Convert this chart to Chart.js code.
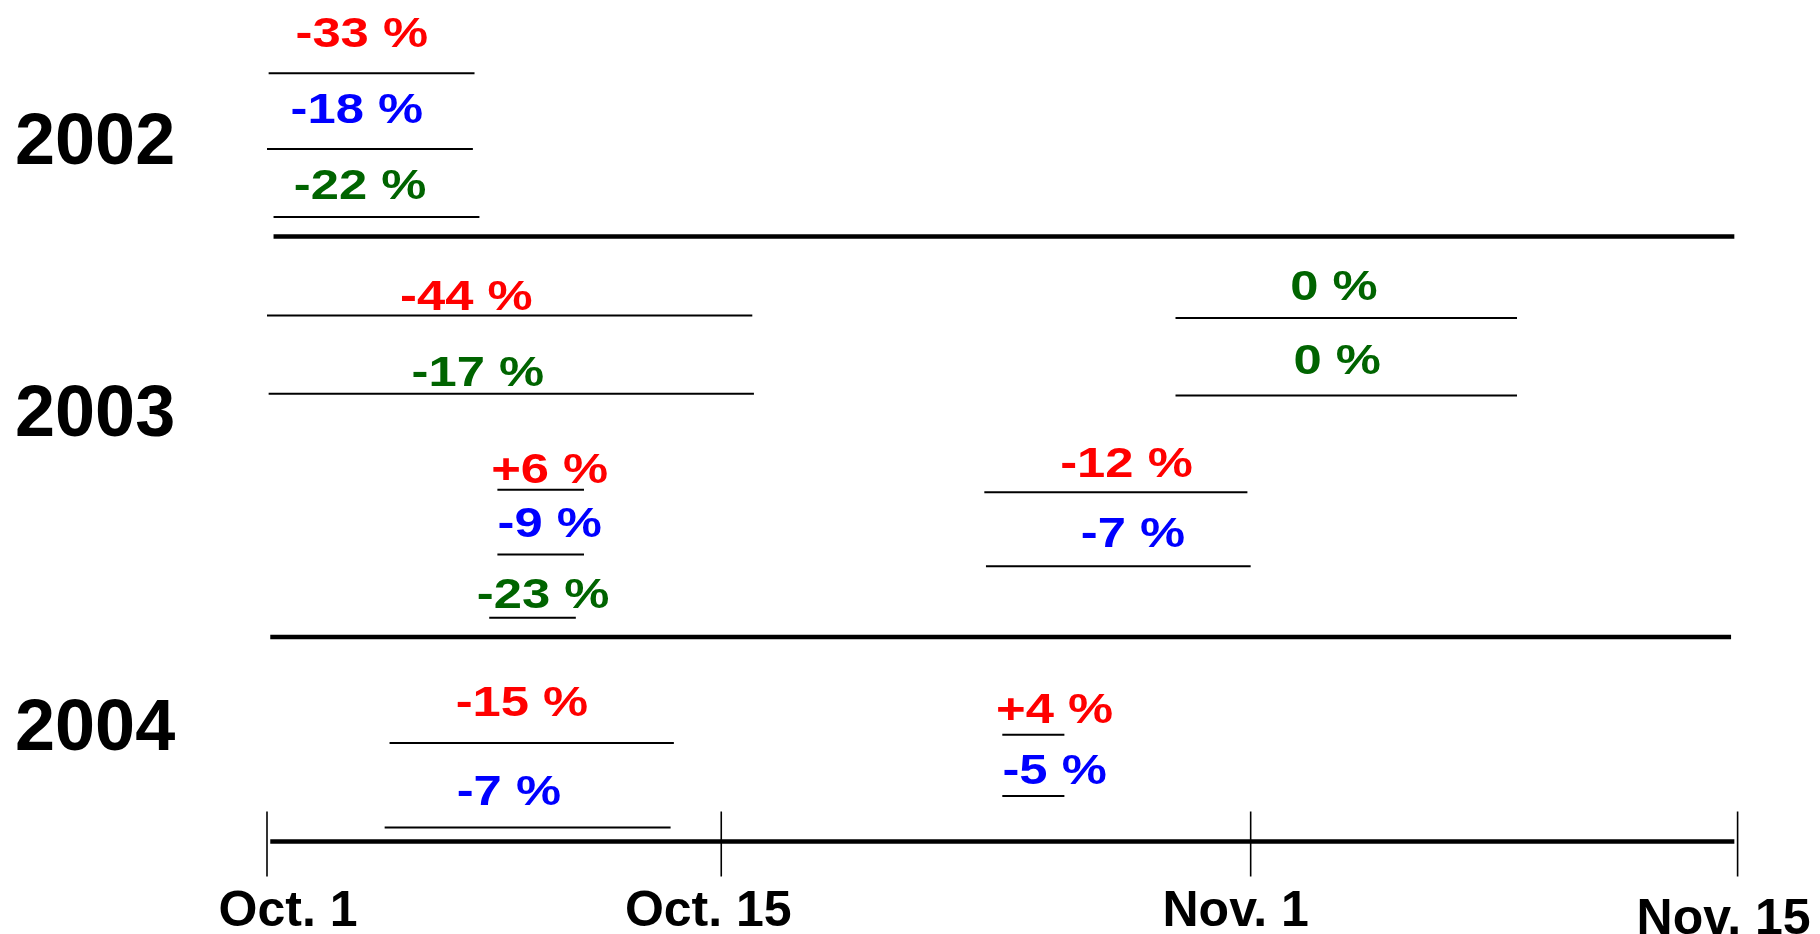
<!DOCTYPE html>
<html>
<head>
<meta charset="utf-8">
<title>Changes by period, 2002-2004</title>
<script src="https://cdn.jsdelivr.net/npm/chart.js@4.4.1/dist/chart.umd.min.js"></script>
<style>
  html, body { margin: 0; padding: 0; background: #fff; }
  #wrap { width: 1820px; height: 934px; }
</style>
</head>
<body>
<div id="wrap"><canvas id="chart"></canvas></div>
<script>
// Year rows (hidden y axis: 0 at the date axis, 100 at the top)
const years = ['2002', '2003', '2004'];
const yearLevels = [82.9, 50.6, 13.2];

// Date axis, in days after Oct. 1
const tickDays = [0, 13.9, 30.1, 45];
const tickLabels = ['Oct. 1', 'Oct. 15', 'Nov. 1', 'Nov. 15'];

// Thick rules between the years, and the date axis itself
const ruleLevels = [71.9, 24.3, 0];
const ruleStart = [0.2, 0.1, 0.1];
const ruleEnd = [44.9, 44.8, 44.9];

// One entry per period bar
const changeText = ['-33 %', '-18 %', '-22 %', '-44 %', '-17 %', '0 %', '0 %', '-12 %',
                    '-7 %', '+6 %', '-9 %', '-23 %', '-15 %', '-7 %', '+4 %', '-5 %'];
const changeSeries = ['red', 'blue', 'green', 'red', 'green', 'green', 'green', 'red',
                      'blue', 'red', 'blue', 'green', 'red', 'blue', 'red', 'blue'];
const periodStart = [0.05, 0.0, 0.2, 0.0, 0.05, 27.8, 27.8, 21.95, 22.0, 7.05, 7.05, 6.8, 3.75, 3.6, 22.5, 22.5];
const periodEnd   = [6.35, 6.3, 6.5, 14.85, 14.9, 38.25, 38.25, 30.0, 30.1, 9.7, 9.7, 9.45, 12.45, 12.35, 24.4, 24.4];
const periodLevel = [91.3, 82.3, 74.2, 62.5, 53.2, 62.2, 53.0, 41.5, 32.7, 41.8, 34.1, 26.6, 11.7, 1.65, 12.7, 5.4];
const labelDay    = [2.9, 2.75, 2.85, 6.1, 6.45, 32.65, 32.75, 26.3, 26.5, 8.65, 8.65, 8.45, 7.8, 7.4, 24.1, 24.1];
const labelLevel  = [96.2, 87.2, 78.2, 65.0, 56.0, 66.2, 57.4, 45.2, 36.8, 44.4, 38.0, 29.6, 16.8, 6.2, 15.9, 8.7];

const seriesColors = { red: '#ff0000', blue: '#0000ff', green: '#006400' };

// small pixel nudges for the date labels (they sit a bit off their ticks)
const tickLabelNudge = [21, -13, -15, -14];
const tickLabelDrop = [84, 84, 84, 92];

const datasets = [];
ruleLevels.forEach((lv, i) => {
    datasets.push({
        data: [{ x: ruleStart[i], y: lv }, { x: ruleEnd[i], y: lv }],
        borderColor: '#000',
        borderWidth: 4.5,
        pointRadius: 0,
        clip: false
    });
});
periodLevel.forEach((lv, i) => {
    datasets.push({
        label: changeText[i],
        data: [{ x: periodStart[i], y: lv }, { x: periodEnd[i], y: lv }],
        borderColor: '#000',
        borderWidth: 2,
        pointRadius: 0,
        clip: false
    });
});

// Draws the date ticks, their labels and the percentage texts
const annotate = {
    id: 'annotate',
    afterDatasetsDraw(chart) {
        const { ctx, scales: { x, y } } = chart;
        const axisY = y.getPixelForValue(0);
        ctx.save();
        ctx.strokeStyle = '#000';
        ctx.lineWidth = 1.6;
        ctx.fillStyle = '#000';
        ctx.textAlign = 'center';
        ctx.textBaseline = 'alphabetic';
        ctx.font = 'bold 50px "Liberation Sans", Arial, sans-serif';
        tickDays.forEach((d, i) => {
            const px = x.getPixelForValue(d);
            ctx.beginPath();
            ctx.moveTo(px, axisY - 30);
            ctx.lineTo(px, axisY + 35);
            ctx.stroke();
            ctx.fillText(tickLabels[i], px + tickLabelNudge[i], axisY + tickLabelDrop[i]);
        });

        ctx.font = 'bold 43px "Liberation Sans", Arial, sans-serif';
        changeText.forEach((t, i) => {
            const px = x.getPixelForValue(labelDay[i]);
            const py = y.getPixelForValue(labelLevel[i]) + 15.4;
            ctx.save();
            ctx.translate(px, py);
            ctx.scale(1.18, 1);
            ctx.fillStyle = seriesColors[changeSeries[i]];
            ctx.fillText(t, 0, 0);
            ctx.restore();
        });
        ctx.restore();
    }
};

new Chart(document.getElementById('chart'), {
    type: 'line',
    data: { datasets: datasets },
    plugins: [annotate],
    options: {
        responsive: true,
        maintainAspectRatio: false,
        animation: false,
        events: [],
        layout: { padding: { left: 15, right: 82.4, top: 0, bottom: 92.5 } },
        plugins: { legend: { display: false }, tooltip: { enabled: false } },
        scales: {
            x: { type: 'linear', min: 0, max: 45, display: false },
            y: {
                type: 'linear',
                min: 0,
                max: 100,
                afterFit(scale) {
                    scale.width = 252;
                    scale.paddingTop = 0;
                    scale.paddingBottom = 0;
                },
                afterBuildTicks(scale) { scale.ticks = yearLevels.map(v => ({ value: v })); },
                ticks: {
                    crossAlign: 'far',
                    padding: 0,
                    color: '#000',
                    font: { family: '"Liberation Sans", Arial, sans-serif', size: 72, weight: 'bold' },
                    callback: (v, i) => years[i]
                },
                grid: { display: false },
                border: { display: false }
            }
        }
    }
});
</script>
</body>
</html>
